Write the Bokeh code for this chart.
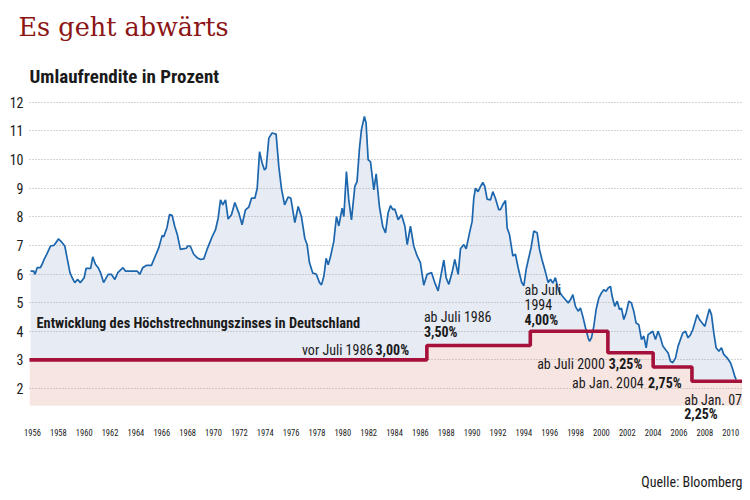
from bokeh.plotting import figure
from bokeh.models import Label, FixedTicker, Title, LinearAxis
from bokeh.embed import file_html
from bokeh.resources import INLINE

# Umlaufrendite (decimal year, percent)
years = [1955.85, 1956.1, 1956.2, 1956.36, 1956.6, 1956.75, 1956.9, 1957.1, 1957.4, 1957.65,
         1957.9, 1958.0, 1958.25, 1958.5, 1958.7, 1958.9, 1959.07, 1959.27, 1959.5, 1959.7,
         1960.0, 1960.15, 1960.5, 1960.66, 1960.87, 1961.08, 1961.26, 1961.5, 1961.85, 1962.1,
         1962.37, 1962.6, 1963.0, 1963.2, 1963.7, 1964.1, 1964.3, 1964.53, 1964.8, 1965.2,
         1965.5, 1965.77, 1966.03, 1966.15, 1966.4, 1966.6, 1966.8, 1967.0, 1967.2, 1967.44,
         1967.62, 1967.9, 1968.0, 1968.2, 1968.47, 1968.73, 1969.0, 1969.25, 1969.5, 1969.76,
         1969.9, 1970.15, 1970.36, 1970.54, 1970.72, 1970.93, 1971.13, 1971.39, 1971.65, 1971.96,
         1972.21, 1972.47, 1972.73, 1972.94, 1973.2, 1973.38, 1973.56, 1973.76, 1973.94, 1974.07,
         1974.28, 1974.53, 1974.84, 1975.05, 1975.26, 1975.5, 1975.77, 1975.98, 1976.29, 1976.55,
         1976.8, 1977.06, 1977.24, 1977.42, 1977.68, 1977.94, 1978.2, 1978.35, 1978.53, 1978.71,
         1978.87, 1979.05, 1979.3, 1979.51, 1979.69, 1979.95, 1980.08, 1980.28, 1980.46, 1980.67,
         1980.93, 1981.1, 1981.29, 1981.44, 1981.67, 1981.8, 1981.96, 1982.14, 1982.4, 1982.58,
         1982.83, 1983.09, 1983.3, 1983.5, 1983.69, 1983.87, 1984.02, 1984.28, 1984.54, 1984.8,
         1984.98, 1985.23, 1985.49, 1985.75, 1986.0, 1986.26, 1986.52, 1986.86, 1987.11, 1987.37,
         1987.63, 1987.81, 1987.99, 1988.2, 1988.45, 1988.66, 1988.92, 1989.1, 1989.36, 1989.54,
         1989.8, 1990.0, 1990.13, 1990.26, 1990.46, 1990.65, 1990.83, 1990.98, 1991.16, 1991.42,
         1991.6, 1991.8, 1992.06, 1992.19, 1992.37, 1992.58, 1992.71, 1992.89, 1993.15, 1993.35,
         1993.56, 1993.82, 1994.0, 1994.18, 1994.38, 1994.56, 1994.77, 1995.03, 1995.21, 1995.41,
         1995.62, 1995.88, 1996.06, 1996.24, 1996.44, 1996.7, 1996.96, 1997.22, 1997.43, 1997.6,
         1997.79, 1997.99, 1998.2, 1998.38, 1998.56, 1998.77, 1998.97, 1999.08, 1999.23, 1999.41,
         1999.59, 1999.8, 2000.0, 2000.18, 2000.36, 2000.52, 2000.7, 2000.83, 2001.03, 2001.22,
         2001.4, 2001.55, 2001.73, 2001.91, 2002.12, 2002.32, 2002.5, 2002.68, 2002.89, 2003.1,
         2003.28, 2003.46, 2003.61, 2003.79, 2003.97, 2004.18, 2004.38, 2004.57, 2004.75, 2004.95,
         2005.16, 2005.34, 2005.52, 2005.73, 2005.93, 2006.11, 2006.29, 2006.5, 2006.7, 2006.89,
         2007.07, 2007.22, 2007.4, 2007.58, 2007.79, 2008.0, 2008.17, 2008.35, 2008.51, 2008.69,
         2008.87, 2009.08, 2009.28, 2009.46, 2009.72, 2009.98, 2010.16, 2010.31, 2010.42]
yields = [6.10, 6.10, 5.99, 6.22, 6.22, 6.34, 6.51, 6.69, 6.98, 7.00,
          7.15, 7.23, 7.12, 6.98, 6.51, 6.05, 5.87, 5.70, 5.81, 5.70,
          5.87, 6.20, 6.20, 6.60, 6.34, 6.22, 6.05, 5.70, 5.99, 5.99,
          5.81, 6.05, 6.22, 6.10, 6.10, 6.10, 5.99, 6.22, 6.30, 6.30,
          6.63, 6.92, 7.35, 7.30, 7.62, 8.08, 8.05, 7.67, 7.38, 6.86,
          6.88, 6.90, 6.98, 6.98, 6.69, 6.57, 6.51, 6.53, 6.86, 7.15,
          7.31, 7.54, 7.95, 8.59, 8.42, 8.59, 7.92, 8.07, 8.50, 8.13,
          7.72, 8.24, 8.34, 8.65, 8.65, 9.00, 10.28, 9.88, 9.64, 9.70,
          10.75, 10.93, 10.89, 9.76, 8.97, 8.42, 8.69, 8.65, 7.80, 8.36,
          8.01, 7.25, 7.02, 6.40, 6.03, 6.00, 5.70, 5.62, 5.91, 6.55,
          6.32, 6.61, 7.13, 8.01, 7.68, 8.30, 8.01, 9.58, 8.59, 7.89,
          9.06, 9.23, 10.40, 11.04, 11.51, 11.28, 9.99, 9.93, 8.94, 9.50,
          8.36, 7.66, 7.44, 8.13, 8.39, 8.25, 8.27, 7.90, 8.07, 7.67,
          7.03, 7.67, 6.97, 6.63, 6.40, 5.61, 5.99, 6.05, 5.70, 5.41,
          6.05, 6.49, 5.87, 5.64, 6.05, 6.51, 5.99, 6.88, 7.03, 6.88,
          7.44, 7.84, 8.65, 9.00, 8.88, 9.06, 9.20, 9.06, 8.62, 8.59,
          8.88, 8.65, 8.25, 8.25, 8.42, 8.57, 7.61, 7.38, 6.63, 6.69,
          6.22, 5.72, 5.59, 6.16, 6.57, 6.92, 7.50, 7.44, 6.86, 6.49,
          6.16, 5.70, 5.82, 5.68, 5.87, 5.41, 5.24, 5.10, 4.99, 5.10,
          5.28, 4.87, 4.70, 4.81, 4.52, 4.12, 3.77, 3.65, 3.77, 4.17,
          4.76, 5.16, 5.34, 5.45, 5.40, 5.51, 5.57, 5.22, 4.87, 5.05,
          4.76, 4.81, 4.41, 4.64, 5.05, 4.99, 4.70, 4.29, 4.23, 3.71,
          3.83, 3.42, 3.88, 3.94, 4.00, 3.71, 4.00, 3.77, 3.48, 3.36,
          3.24, 2.95, 2.90, 3.07, 3.48, 3.71, 3.94, 4.00, 3.77, 3.88,
          4.06, 4.29, 4.58, 4.41, 4.29, 4.17, 4.47, 4.78, 4.58, 3.94,
          3.42, 3.30, 3.42, 3.19, 3.07, 2.90, 2.66, 2.43, 2.31]

# Hoechstrechnungszins (start of validity, percent)
X0, X1 = 1955.77, 2010.91
Y0, Y1 = 0.74, 12.1
AREA_BASE = 1.4
rate_dates = [X0, 1986.5, 1994.5, 2000.5, 2004.0, 2007.0, X1]
rate_levels = [3.00, 3.50, 4.00, 3.25, 2.75, 2.25, 2.25]

y_ticks = list(range(2, 13))
x_ticks = list(range(1956, 2011, 2))
SOURCE_TEXT = "Quelle: Bloomberg"
SOURCE_AT = 2007

COND = "Roboto Condensed"
TXT = "#1a1a1a"

p = figure(width=742, height=492, x_range=(X0, X1), y_range=(Y0, Y1),
           output_backend="svg", toolbar_location=None,
           min_border_left=29, min_border_right=0, min_border_top=99, min_border_bottom=68)
p.outline_line_color = None
p.background_fill_color = "white"
p.border_fill_color = "white"

# main title (outer) and subtitle (next to the frame)
p.title.text = "Es geht abwärts"
p.title.text_font = "DejaVu Serif"
p.title.text_font_size = "25.5px"
p.title.text_font_style = "normal"
p.title.text_color = "#8c1515"
p.title.align = "left"
p.title.offset = -11
p.title.standoff = 18
p.add_layout(Title(text="Umlaufrendite in Prozent", text_font=COND, text_font_size="19px",
                   text_font_style="bold", text_color=TXT, align="left",
                   offset=0, standoff=24), "above")

p.xaxis.ticker = FixedTicker(ticks=x_ticks)
p.yaxis.ticker = FixedTicker(ticks=y_ticks)
for ax in (p.xaxis, p.yaxis):
    ax.axis_line_color = None
    ax.major_tick_line_color = None
    ax.minor_tick_line_color = None
    ax.major_label_text_color = TXT
p.xaxis.major_label_text_font = COND
p.xaxis.major_label_text_font_size = "8.5px"
p.xaxis.major_label_standoff = -2
p.yaxis.major_label_text_font = COND
p.yaxis.major_label_text_font_size = "14px"
p.yaxis.major_label_standoff = 0

# source line: a second, tick-less axis below whose single label is the source
src_axis = LinearAxis(ticker=FixedTicker(ticks=[SOURCE_AT]),
                      major_label_overrides={SOURCE_AT: SOURCE_TEXT},
                      axis_line_color=None, major_tick_line_color=None,
                      minor_tick_line_color=None,
                      major_label_text_font=COND, major_label_text_font_size="14px",
                      major_label_text_color=TXT, major_label_standoff=29)
p.add_layout(src_axis, "below")

p.xgrid.grid_line_color = None
p.ygrid.ticker = FixedTicker(ticks=y_ticks)
p.ygrid.grid_line_color = "#a8a8a8"
p.ygrid.grid_line_dash = "1 2"
p.ygrid.grid_line_width = 1
p.ygrid.level = "guide"

p.varea(x=years, y1=AREA_BASE, y2=yields, fill_color="#e7ebf4")
p.varea_step(x=rate_dates, y1=AREA_BASE, y2=rate_levels, step_mode="after", fill_color="#f7e5e2")
r1 = p.line(years, yields, line_color="#1c66ad", line_width=1.7)
r1.level = "annotation"
r2 = p.step(rate_dates, rate_levels, mode="after", line_color="#a5113b", line_width=3.6)
r2.level = "annotation"


def lab(x, y, text, size, bold=False, align="left", baseline="middle",
        font=COND, color=TXT):
    p.add_layout(Label(x=x, y=y, text=text, text_font=font, text_font_size=size,
                       text_font_style="bold" if bold else "normal",
                       text_align=align, text_baseline=baseline, text_color=color,
                       level="overlay"))


lab(1956.31, 4.27, "Entwicklung des Höchstrechnungszinses in Deutschland", "14.4px", bold=True)
lab(1982.35, 3.33, "vor Juli 1986", "14px", align="right")
lab(1982.53, 3.33, "3,00%", "14px", bold=True)
lab(1986.27, 4.49, "ab Juli 1986", "14px")
lab(1986.27, 3.97, "3,50%", "14px", bold=True)
lab(1994.05, 5.45, "ab Juli", "14px")
lab(1994.05, 4.94, "1994", "14px")
lab(1994.05, 4.40, "4,00%", "14px", bold=True)
lab(2000.26, 2.86, "ab Juli 2000", "14px", align="right")
lab(2000.57, 2.86, "3,25%", "14px", bold=True)
lab(2003.27, 2.19, "ab Jan. 2004", "14px", align="right")
lab(2003.61, 2.19, "2,75%", "14px", bold=True)
lab(2006.4, 1.58, "ab Jan. 07", "14px")
lab(2006.4, 1.09, "2,25%", "14px", bold=True)

open("out.html", "w").write(file_html(p, INLINE))
